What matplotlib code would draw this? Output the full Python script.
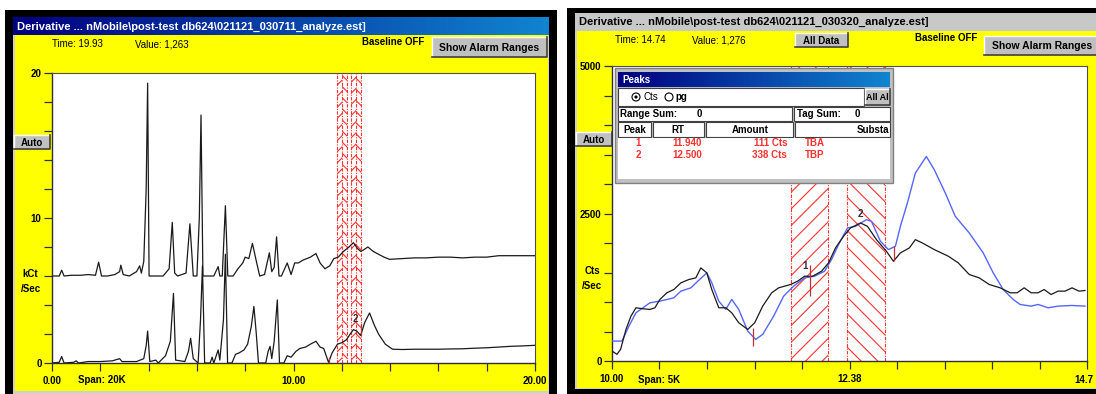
import numpy as np
import matplotlib
matplotlib.use("Agg")
import matplotlib.pyplot as plt
from matplotlib.patches import Rectangle, Circle
from matplotlib.colors import LinearSegmentedColormap

plt.rcParams["font.family"] = ["Liberation Sans", "DejaVu Sans"]
plt.rcParams["hatch.linewidth"] = 0.8

W, H = 1096, 394

# ---- left window: run 030711, two traces in kCt/Sec over 0..20 min
left_x = [0.0, 0.3, 0.4, 0.5, 0.8, 1.2, 1.5, 1.8, 1.93, 2.05, 2.3, 2.6, 2.8, 2.85,
          2.95, 3.2, 3.5, 3.63, 3.7, 3.8, 3.9, 3.96, 4.02, 4.1, 4.6, 4.85, 4.98,
          5.08, 5.2, 5.55, 5.71, 5.85, 6.0, 6.1, 6.17, 6.25, 6.35, 6.7, 6.88, 6.95,
          7.05, 7.18, 7.28, 7.5, 7.7, 7.9, 8.0, 8.15, 8.3, 8.45, 8.6, 8.8, 9.0, 9.1,
          9.2, 9.3, 9.4, 9.5, 9.74, 9.9, 10.05, 10.2, 10.4, 10.7, 10.93, 11.1, 11.3,
          11.5, 11.67, 11.85, 12.07, 12.3, 12.48, 12.65, 12.78, 12.9, 13.08, 13.3,
          13.52, 13.75, 13.97, 14.5, 15.0, 15.5, 16.0, 16.5, 17.0, 17.5, 18.0, 18.5,
          19.0, 19.5, 20.0]
left_upper = [6.0, 6.0, 6.4, 6.0, 6.05, 6.05, 6.1, 6.05, 6.95, 6.0, 6.0, 6.1, 6.3, 6.75,
              6.1, 6.0, 6.3, 6.7, 6.2, 7.0, 12.0, 19.3, 6.0, 6.0, 6.0, 6.5, 9.7,
              6.2, 6.0, 6.2, 9.6, 6.0, 6.0, 10.0, 17.1, 6.0, 6.0, 6.0, 6.65, 6.0,
              6.0, 10.85, 6.0, 6.0, 6.5, 6.9, 7.3, 7.2, 8.25, 7.1, 6.0, 6.1, 7.6, 6.3,
              6.6, 8.7, 6.0, 6.0, 6.9, 6.1, 6.9, 6.9, 7.1, 7.3, 7.55, 6.9, 6.5,
              6.7, 7.2, 7.3, 7.7, 8.0, 8.3, 7.9, 7.7, 7.8, 8.0, 7.7,
              7.5, 7.3, 7.15, 7.2, 7.25, 7.25, 7.3, 7.3, 7.25, 7.3, 7.3, 7.4,
              7.4, 7.4, 7.4]
left_lower_x = [0.0, 0.3, 0.4, 0.5, 0.9, 1.0, 1.1, 1.5, 2.0, 2.5, 2.8, 2.9, 3.5, 3.8,
                3.9, 3.96, 4.05, 4.3, 4.4, 4.7, 4.9, 5.03, 5.12, 5.5, 5.65, 5.74, 5.85,
                6.05, 6.15, 6.23, 6.32, 6.55, 6.63, 6.7, 6.82, 6.88, 6.95, 7.1, 7.18,
                7.27, 7.45, 7.6, 7.75, 7.95, 8.1, 8.25, 8.36, 8.45, 8.55, 8.85, 8.95,
                9.03, 9.1, 9.2, 9.33, 9.42, 9.6, 9.74, 9.9, 10.1, 10.26, 10.5, 10.7,
                10.93, 11.1, 11.25, 11.45, 11.6, 11.82, 12.0, 12.19, 12.35, 12.48,
                12.62, 12.78, 12.95, 13.15, 13.35, 13.52, 13.8, 14.1, 14.5, 15.0, 15.5,
                16.0, 16.5, 17.0, 17.5, 18.0, 18.5, 19.0, 19.5, 20.0]
left_lower = [0.0, 0.05, 0.45, 0.0, 0.05, 0.15, 0.0, 0.1, 0.1, 0.15, 0.3, 0.1, 0.1, 0.3,
              1.2, 2.2, 0.1, 0.2, 0.0, 0.5, 1.5, 4.8, 0.2, 0.1, 0.8, 1.7, 0.3,
              0.0, 3.0, 6.7, 0.0, 0.0, 0.4, 0.0, 0.6, 0.9, 0.2, 3.0, 7.5,
              0.0, 0.0, 0.6, 0.7, 0.9, 1.3, 2.5, 3.9, 2.2, 0.0, 0.0, 0.8,
              1.15, 0.3, 1.5, 4.35, 0.0, 0.0, 0.5, 0.4, 0.8, 1.0, 1.1, 1.3,
              1.5, 1.1, 1.0, 0.05, 0.7, 1.3, 1.4, 1.6, 2.0, 2.3,
              2.2, 1.9, 2.8, 3.45, 2.6, 2.0, 1.3, 0.95, 0.93, 0.95, 0.95,
              0.95, 0.97, 0.98, 1.02, 1.05, 1.1, 1.15, 1.18, 1.22]
left_bands = [(11.82, 12.23), (12.38, 12.78)]

# ---- right window: run 030320, Cts/Sec over 10..14.76 min
right_black_x = [10.0, 10.05, 10.086, 10.14, 10.19, 10.24, 10.31, 10.38, 10.43, 10.48,
                 10.55, 10.62, 10.69, 10.77, 10.84, 10.89, 10.95, 11.0, 11.07, 11.14,
                 11.2, 11.27, 11.36, 11.43, 11.51, 11.6, 11.67, 11.79, 11.86, 11.93,
                 12.01, 12.1, 12.17, 12.24, 12.32, 12.39, 12.49, 12.56, 12.65, 12.75,
                 12.82, 12.89, 12.98, 13.04, 13.11, 13.23, 13.37, 13.47, 13.58, 13.68,
                 13.78, 13.89, 13.99, 14.06, 14.13, 14.2, 14.27, 14.33, 14.4, 14.47,
                 14.54, 14.61, 14.68, 14.74]
right_black = [169, 113, 197, 535, 761, 902, 885, 874, 902, 1043,
               1156, 1212, 1325, 1381, 1409, 1578, 1494, 1212, 902, 902,
               817, 648, 535, 648, 930, 1156, 1240, 1297, 1353, 1437,
               1437, 1522, 1663, 1917, 2114, 2255, 2339, 2283, 2057, 1860,
               1691, 1832, 1917, 2057, 2001, 1888, 1776, 1663, 1466, 1409,
               1297, 1240, 1156, 1156, 1240, 1156, 1156, 1212, 1127, 1184,
               1184, 1240, 1184, 1195]
right_blue_x = [10.0, 10.1, 10.17, 10.24, 10.31, 10.38, 10.48, 10.55, 10.62, 10.69,
                10.79, 10.86, 10.95, 11.0, 11.07, 11.14, 11.2, 11.27, 11.36, 11.44,
                11.51, 11.62, 11.72, 11.82, 11.93, 12.03, 12.13, 12.2, 12.27, 12.36,
                12.44, 12.55, 12.6, 12.69, 12.77, 12.84, 12.89, 12.96, 13.04, 13.15,
                13.23, 13.34, 13.44, 13.58, 13.72, 13.82, 13.92, 14.02, 14.09, 14.2,
                14.27, 14.37, 14.47, 14.61, 14.74]
right_blue = [338, 338, 592, 817, 902, 986, 1015, 1043, 1071, 1184,
              1240, 1353, 1494, 1325, 1015, 874, 1043, 874, 507, 366,
              451, 761, 1099, 1268, 1409, 1437, 1522, 1719, 1973, 2255,
              2283, 2396, 2367, 2029, 1888, 1945, 2283, 2677, 3185, 3467,
              3241, 2847, 2452, 2170, 1832, 1494, 1212, 1043, 958, 930,
              958, 902, 930, 941, 930]
right_bands = [(11.79, 12.16), (12.35, 12.735)]
tag_x = [11.41, 11.985, 12.83]
tag_lo = [253, 1099, 1691]
tag_hi = [563, 1635, 1945]
peak_ids = ["1", "2"]
peak_rt = ["11.940", "12.500"]
peak_amount = ["111 Cts", "338 Cts"]
peak_sub = ["TBA", "TBP"]
peak_lbl_x = [11.93, 12.49]
peak_lbl_y = [1522, 2407]

YELLOW = "#ffff00"
GRAY = "#c0c0c0"
RED = "#ff3030"
BLUE_TR = "#5566ff"


def to_fig(l, t, r, b):
    return [l / W, 1 - b / H, (r - l) / W, (b - t) / H]


def rect(ax, x0, y0, x1, y1, fc, ec="none", lw=0, z=1):
    ax.add_patch(Rectangle((x0, y0), x1 - x0, y1 - y0, facecolor=fc,
                           edgecolor=ec, linewidth=lw, zorder=z))


def gradient(ax, x0, y0, x1, y1, c0, c1, z=2):
    cm = LinearSegmentedColormap.from_list("tb", [c0, c1])
    ax.imshow(np.linspace(0, 1, 64)[None, :], cmap=cm, aspect="auto",
              extent=(x0, x1, y1, y0), zorder=z, interpolation="bilinear")


def button(ax, x0, y0, x1, y1, label, fs=7, z=3):
    rect(ax, x0, y0, x1, y1, GRAY, z=z)
    ax.plot([x0, x1], [y0, y0], color="white", lw=1, zorder=z + 0.1)
    ax.plot([x0, x0], [y0, y1], color="white", lw=1, zorder=z + 0.1)
    ax.plot([x0, x1, x1], [y1, y1, y0], color="#404040", lw=1.2, zorder=z + 0.1)
    ax.text((x0 + x1) / 2, (y0 + y1) / 2 + 0.5, label, ha="center", va="center",
            fontsize=fs, fontweight="bold", zorder=z + 0.2)


def style_plot(ax, xlim, ylim, xmaj, xlab, xmin, ymaj, ylab, ymin):
    ax.set_facecolor("white")
    ax.set_xlim(*xlim)
    ax.set_ylim(*ylim)
    ax.set_xticks(xmaj, xlab)
    ax.set_xticks(xmin, minor=True)
    ax.set_yticks(ymaj, ylab)
    ax.set_yticks(ymin, minor=True)
    ax.tick_params(which="both", direction="out", length=5.5, width=0.9,
                   color="#303030", labelsize=7, pad=2)
    ax.tick_params(axis="x", pad=4)
    for lab in ax.get_xticklabels() + ax.get_yticklabels():
        lab.set_fontweight("bold")
    for side in ("top", "right"):
        ax.spines[side].set_color("#505050")
        ax.spines[side].set_linewidth(0.8)
    for side in ("left", "bottom"):
        ax.spines[side].set_color("#303030")
        ax.spines[side].set_linewidth(1.0)


def hatch_band(ax, a, b, pattern):
    ax.axvspan(a, b, facecolor="none", edgecolor=RED, hatch=pattern,
               linewidth=0, zorder=1)
    for xv in (a, b):
        ax.axvline(xv, color=RED, lw=0.8, ls=(0, (3, 1.2, 1, 1.2)), zorder=1.5)


fig = plt.figure(figsize=(W / 100, H / 100), dpi=100)
fig.patch.set_facecolor("white")

bg = fig.add_axes([0, 0, 1, 1], zorder=0)
bg.set_xlim(0, W)
bg.set_ylim(H, 0)
bg.axis("off")

# left window frame
rect(bg, 5, 10, 557, 394, "black")
rect(bg, 13, 17, 549, 394, "#d4d0c8")
rect(bg, 15, 35, 548, 391, YELLOW)
gradient(bg, 13, 17, 549, 35, "#000080", "#1084d0")
bg.text(17, 26.5, r"Derivative ... nMobile\post-test db624\021121_030711_analyze.est]",
        color="white", fontsize=8, fontweight="bold", va="center", zorder=4)
bg.text(52, 44, "Time: 19.93", fontsize=7, va="center", zorder=4)
bg.text(135, 44, "Value: 1,263", fontsize=7, va="center", zorder=4)
bg.text(362, 42, "Baseline OFF", fontsize=7, fontweight="bold", va="center", zorder=4)
button(bg, 432, 37, 547, 57, "Show Alarm Ranges", fs=7.5)
button(bg, 14, 135, 50, 149, "Auto")
bg.text(30, 274, "kCt", fontsize=7, fontweight="bold", ha="center", va="center")
bg.text(31, 289, "/Sec", fontsize=7, fontweight="bold", ha="center", va="center")
bg.text(78, 380, "Span: 20K", fontsize=7, fontweight="bold", va="center")

# right window frame
rect(bg, 567, 8, W, 394, "black")
rect(bg, 575, 13, W, 389, "#d4d0c8")
rect(bg, 577, 31, W, 388, YELLOW)
rect(bg, 575, 13, W, 31, "#c8c8c8", z=2)
bg.text(579, 22, r"Derivative ... nMobile\post-test db624\021121_030320_analyze.est]",
        color="black", fontsize=8, fontweight="bold", va="center", zorder=4)
bg.text(615, 40, "Time: 14.74", fontsize=7, va="center", zorder=4)
bg.text(692, 40, "Value: 1,276", fontsize=7, va="center", zorder=4)
button(bg, 795, 33, 848, 47, "All Data")
bg.text(915, 38, "Baseline OFF", fontsize=7, fontweight="bold", va="center", zorder=4)
button(bg, 984, 36, 1100, 55, "Show Alarm Ranges", fs=7.5)
button(bg, 576, 132, 612, 146, "Auto")
bg.text(592, 271, "Cts", fontsize=7, fontweight="bold", ha="center", va="center")
bg.text(592, 286, "/Sec", fontsize=7, fontweight="bold", ha="center", va="center")
bg.text(638, 380, "Span: 5K", fontsize=7, fontweight="bold", va="center")
bg.text(1074, 380, "14.7", fontsize=7, fontweight="bold", va="center")

# left chromatogram
axl = fig.add_axes(to_fig(52, 73, 535, 363), zorder=1)
style_plot(axl, (0, 20), (0, 20), [0, 10, 20], ["0.00", "10.00", "20.00"],
           np.arange(0, 21, 2), [0, 10, 20], ["0", "10", "20"], np.arange(0, 21, 2))
for a, b in left_bands:
    mid = (a + b) / 2
    hatch_band(axl, a, mid, "///")
    axl.axvspan(mid, b, facecolor="none", edgecolor=RED, hatch="\\\\\\",
                linewidth=0, zorder=1)
    axl.axvline(b, color=RED, lw=0.8, ls=(0, (3, 1.2, 1, 1.2)), zorder=1.5)
axl.plot(left_x, left_upper, color="#1a1a1a", lw=0.9, zorder=3)
axl.plot(left_lower_x, left_lower, color="#1a1a1a", lw=0.9, zorder=3)
axl.plot([11.45, 11.45], [0.0, 0.35], color="#c03030", lw=0.9, zorder=3)
axl.plot([12.78, 12.78], [1.9, 2.7], color="#c03030", lw=0.9, zorder=3)
axl.text(12.56, 2.8, "2", fontsize=7, fontweight="bold", ha="center", color="#303030", zorder=4)

# right chromatogram
axr = fig.add_axes(to_fig(612, 66, 1087, 361), zorder=1)
style_plot(axr, (10, 14.76), (0, 5000), [10, 12.38], ["10.00", "12.38"],
           np.linspace(10, 14.76, 11), [0, 2500, 5000], ["0", "2500", "5000"],
           np.arange(0, 5001, 500))
hatch_band(axr, right_bands[0][0], right_bands[0][1], "//")
hatch_band(axr, right_bands[1][0], right_bands[1][1], "\\\\")
axr.plot(right_blue_x, right_blue, color=BLUE_TR, lw=1.0, zorder=3)
axr.plot(right_black_x, right_black, color="#1a1a1a", lw=0.9, zorder=3)
axr.vlines(tag_x, tag_lo, tag_hi, color="#c03030", lw=0.9, zorder=4)
for lbl, px, py in zip(peak_ids, peak_lbl_x, peak_lbl_y):
    axr.text(px, py, lbl, fontsize=7, fontweight="bold", ha="center", va="bottom",
             color="#303030", zorder=5)

# peaks dialog on top
fg = fig.add_axes([0, 0, 1, 1], zorder=2)
fg.set_xlim(0, W)
fg.set_ylim(H, 0)
fg.axis("off")
fg.patch.set_alpha(0)
rect(fg, 615, 68, 893, 183, GRAY, ec="#808080", lw=1)
gradient(fg, 618, 72, 890, 87, "#000080", "#1084d0", z=2)
fg.set_xlim(0, W)
fg.set_ylim(H, 0)
fg.text(622, 80, "Peaks", color="white", fontsize=7, fontweight="bold", va="center", zorder=3)
rect(fg, 618, 88, 864, 106, "white", ec="#404040", lw=0.8, z=2)
button(fg, 865, 89, 890, 105, "All Al", fs=6.5)
fg.add_patch(Circle((636, 97), 4, facecolor="white", edgecolor="black", lw=0.8, zorder=3))
fg.add_patch(Circle((636, 97), 1.6, facecolor="black", zorder=3))
fg.text(643, 97, "Cts", fontsize=7, va="center", zorder=3)
fg.add_patch(Circle((669, 97), 4, facecolor="white", edgecolor="black", lw=0.8, zorder=3))
fg.text(675, 97, "pg", fontsize=7, fontweight="bold", va="center", zorder=3)
rect(fg, 618, 107, 792, 121, "white", ec="#404040", lw=0.8, z=2)
rect(fg, 794, 107, 890, 121, "white", ec="#404040", lw=0.8, z=2)
fg.text(620, 114, "Range Sum:", fontsize=7, fontweight="bold", va="center", zorder=3)
fg.text(697, 114, "0", fontsize=7, fontweight="bold", va="center", zorder=3)
fg.text(797, 114, "Tag Sum:", fontsize=7, fontweight="bold", va="center", zorder=3)
fg.text(855, 114, "0", fontsize=7, fontweight="bold", va="center", zorder=3)
for x0, x1 in [(618, 651), (653, 704), (706, 793), (795, 890)]:
    rect(fg, x0, 122, x1, 137, "white", ec="#404040", lw=0.8, z=2)
fg.text(634.5, 130, "Peak", fontsize=7, fontweight="bold", ha="center", va="center", zorder=3)
fg.text(678, 130, "RT", fontsize=7, fontweight="bold", ha="center", va="center", zorder=3)
fg.text(750, 130, "Amount", fontsize=7, fontweight="bold", ha="center", va="center", zorder=3)
fg.text(889, 130, "Substa", fontsize=7, fontweight="bold", ha="right", va="center", zorder=3)
rect(fg, 618, 138, 890, 179, "white", z=2)
for i, row_y in enumerate([143, 155]):
    fg.text(638, row_y, peak_ids[i], color=RED, fontsize=7, fontweight="bold",
            ha="center", va="center", zorder=3)
    fg.text(687, row_y, peak_rt[i], color=RED, fontsize=7, fontweight="bold",
            ha="center", va="center", zorder=3)
    fg.text(787, row_y, peak_amount[i], color=RED, fontsize=7, fontweight="bold",
            ha="right", va="center", zorder=3)
    fg.text(805, row_y, peak_sub[i], color=RED, fontsize=7, fontweight="bold",
            va="center", zorder=3)

fig.savefig("out.png", dpi=100)
